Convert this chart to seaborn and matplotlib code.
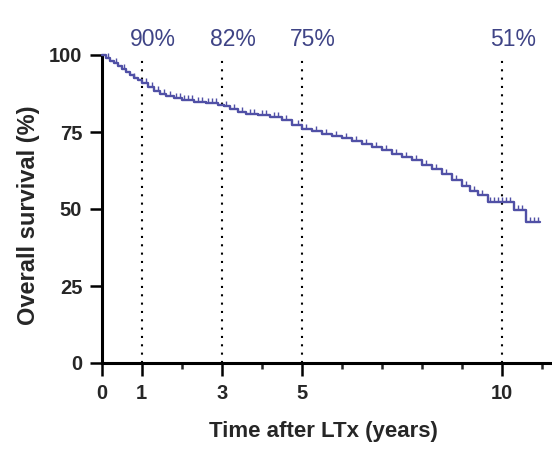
import numpy as np
import pandas as pd
import matplotlib
matplotlib.use("Agg")
import matplotlib.pyplot as plt
from matplotlib.path import Path
import seaborn as sns

# ---- data ----
step_times = [0, 0.1, 0.2, 0.3, 0.4, 0.5, 0.6, 0.7, 0.8, 0.9, 1.0, 1.15, 1.3, 1.45,
              1.6, 1.8, 2.0, 2.3, 2.6, 2.9, 3.05, 3.2, 3.4, 3.6, 3.9, 4.2, 4.5, 4.75,
              5.0, 5.25, 5.5, 5.75, 6.0, 6.25, 6.5, 6.75, 7.0, 7.25, 7.5, 7.75, 8.0,
              8.25, 8.5, 8.75, 9.0, 9.2, 9.4, 9.65, 10.3, 10.6, 10.95]
step_surv = [100, 99, 98, 97.3, 96.3, 95.4, 94.4, 93.5, 92.6, 91.8, 91.0, 89.6, 88.4,
             87.5, 86.7, 85.9, 85.3, 84.8, 84.3, 83.9, 83.3, 82.5, 81.6, 80.9, 80.4,
             79.8, 78.9, 77.4, 76.0, 75.2, 74.5, 73.8, 73.0, 72.1, 71.2, 70.2, 69.2,
             68.0, 67.0, 65.8, 64.4, 63.0, 61.4, 59.5, 57.5, 56.0, 54.5, 52.3, 49.7,
             45.9, 45.9]
censor_times = [0.15, 0.35, 0.55, 0.8, 1.1, 1.25, 1.4, 1.55, 1.7, 1.85, 1.95, 2.05,
                2.15, 2.25, 2.4, 2.5, 2.65, 2.75, 2.85, 3.1, 3.3, 3.5, 3.7, 3.8, 4.0,
                4.1, 4.3, 4.4, 4.6, 4.9, 5.1, 5.35, 5.6, 5.85, 6.1, 6.35, 6.6, 6.85,
                7.1, 7.35, 7.6, 7.85, 8.1, 8.35, 8.6, 8.85, 9.1, 9.3, 9.5, 9.7, 9.8,
                9.9, 10.0, 10.1, 10.2, 10.4, 10.5, 10.7, 10.8, 10.9]
mark_years = [1, 3, 5, 10]
mark_labels = ["90%", "82%", "75%", "51%"]
x_major = [0, 1, 3, 5, 10]
y_major = [0, 25, 50, 75, 100]

curve_color = "#5050a6"
label_color = "#3f4486"

sns.set_style("ticks")
plt.rcParams["font.family"] = ["Liberation Sans", "DejaVu Sans"]

fig = plt.figure(figsize=(5.52, 4.5), dpi=100)
ax = fig.add_axes([101.7 / 552, 1 - 363 / 450, 1 - 101.7 / 552, (363 - 55) / 450])

df = pd.DataFrame({"t": step_times, "s": step_surv})
sns.lineplot(data=df, x="t", y="s", ax=ax, drawstyle="steps-post", estimator=None,
             color=curve_color, linewidth=1.7, clip_on=False, zorder=3)

# censor marks placed on the step curve
idx = np.searchsorted(step_times, censor_times, side="right") - 1
cy = np.array(step_surv)[idx]
tick_marker = Path([(0, 0), (0, 1)])
ax.plot(censor_times, cy, linestyle="none", marker=tick_marker, markersize=7,
        markeredgewidth=1.0, color=curve_color, clip_on=False, zorder=3)

for yr, lab in zip(mark_years, mark_labels):
    ax.axvline(yr, ymin=0, ymax=1, color="black", linestyle=(0, (1, 3)),
               linewidth=1.5, zorder=2)
    ax.text(yr + 0.28, 101.2, lab, ha="center", va="bottom", fontsize=16.5,
            color=label_color)

ax.set_xlim(0, (552 - 101.7) / 40)
ax.set_ylim(0, 100)
ax.set_xticks(x_major)
ax.set_xticks(list(range(0, 12)), minor=True)
ax.set_yticks(y_major)
ax.tick_params(axis="both", which="major", length=9, width=1.8, labelsize=14.5,
               pad=5, color="black")
ax.tick_params(axis="x", which="major", pad=6)
ax.tick_params(axis="x", which="minor", length=4, width=1.8)
for lab in ax.get_xticklabels() + ax.get_yticklabels():
    lab.set_fontweight("bold")

for side in ["top", "right"]:
    ax.spines[side].set_visible(False)
for side in ["left", "bottom"]:
    ax.spines[side].set_linewidth(2.2)
    ax.spines[side].set_color("black")

ax.set_xlabel("")
ax.set_ylabel("Overall survival (%)", fontsize=17, fontweight="bold")
ax.yaxis.set_label_coords(-0.138, 0.48)
fig.text(323 / 552, 1 - 431 / 450, "Time after LTx (years)", ha="center",
         va="center", fontsize=16, fontweight="bold")

fig.savefig("out.png", dpi=100)
